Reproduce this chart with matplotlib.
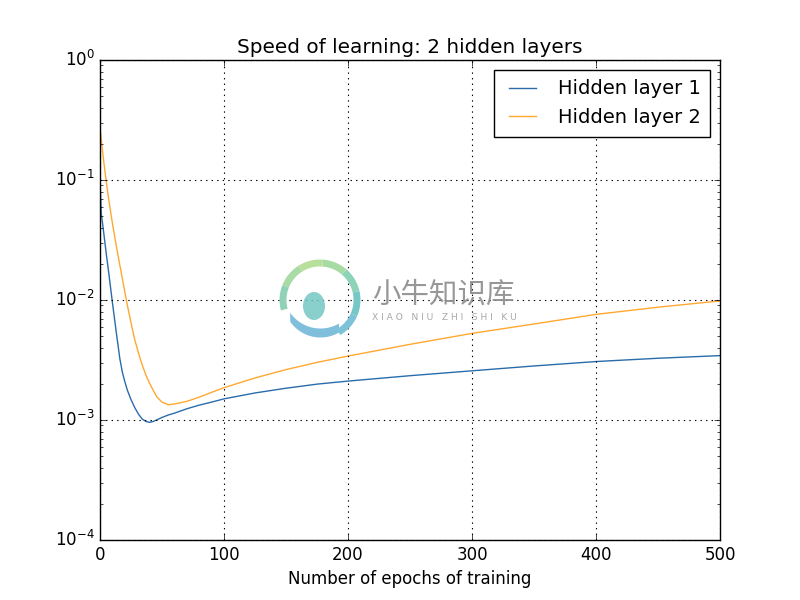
import matplotlib
matplotlib.use("Agg")
import matplotlib.pyplot as plt
from matplotlib.patches import Ellipse
import numpy as np

plt.style.use("classic")
plt.rcParams["font.family"] = ["DejaVu Sans"]
plt.rcParams["mathtext.fontset"] = "dejavusans"
plt.rcParams["figure.facecolor"] = "white"
plt.rcParams["savefig.facecolor"] = "white"

epochs = [0, 1, 2, 3, 5, 7, 10, 13, 16, 18, 20, 22, 25, 28, 31, 34, 37, 40, 43, 46,
          50, 55, 60, 70, 80, 90, 100, 125, 150, 175, 200, 250, 300, 350, 400, 450, 500]
layer1 = [0.1, 0.0525, 0.044, 0.0363, 0.0245, 0.0170, 0.00955, 0.0055, 0.00324, 0.00251,
          0.00209, 0.00178, 0.00148, 0.00127, 0.00112, 0.00102, 0.000973, 0.000955, 0.000973, 0.001005,
          0.00105, 0.0011, 0.00114, 0.00124, 0.00133, 0.00141, 0.0015, 0.00168, 0.00184, 0.00199,
          0.00211, 0.00234, 0.00257, 0.00282, 0.00307, 0.00327, 0.00344]
layer2 = [0.275, 0.219, 0.176, 0.143, 0.0977, 0.0692, 0.0437, 0.0288, 0.0195, 0.0151,
          0.0117, 0.00912, 0.00646, 0.00468, 0.00363, 0.00288, 0.00237, 0.00202, 0.00176, 0.00155,
          0.00141, 0.00134, 0.00136, 0.00143, 0.00155, 0.0017, 0.00186, 0.00224, 0.00263, 0.00302,
          0.00341, 0.00427, 0.00527, 0.00631, 0.00759, 0.00871, 0.00982]
labels = ["Hidden layer 1", "Hidden layer 2"]
colors = ["#2a6cab", "#ffa830"]

fig = plt.figure(figsize=(8, 6), dpi=100)
ax = fig.add_subplot(111)
ax.plot(epochs, layer1, color=colors[0], lw=1.0, label=labels[0])
ax.plot(epochs, layer2, color=colors[1], lw=1.0, label=labels[1])
ax.set_yscale("log")
ax.set_xlim(0, 500)
ax.set_ylim(1e-4, 1)
ax.grid(True, color="black", linestyle=":", linewidth=0.8)
ax.set_title("Speed of learning: 2 hidden layers", fontsize=14.4)
ax.set_xlabel("Number of epochs of training", fontsize=12)
ax.tick_params(labelsize=12)
leg = ax.legend(loc="upper right", fontsize=14, fancybox=False, borderpad=0.5)
leg.get_frame().set_edgecolor("black")

# watermark overlay (pixel coordinates)
wm = fig.add_axes([0, 0, 1, 1], facecolor="none")
wm.set_xlim(0, 800)
wm.set_ylim(600, 0)
wm.axis("off")
cx, cy, r = 320, 300, 37
ring_cols = ["#7cc3d8", "#76c8c6", "#8dd3b8", "#a6dba4", "#b8df9c", "#a9dba6", "#90d2b6"]
edges = np.linspace(-60, 195, len(ring_cols) + 1)
for c, a0, a1 in zip(ring_cols, edges[:-1], edges[1:]):
    t = np.radians(np.linspace(a0, a1, 30))
    wm.plot(cx + r * np.cos(t), cy - r * np.sin(t), color=c, lw=5, solid_capstyle="butt")
t = np.radians(np.linspace(215, 300, 30))
wm.fill_between(cx + r * np.cos(t), cy - r * np.sin(t), cy - r * np.sin(t) - 9,
                color="#7fbfdc", lw=0)
wm.add_patch(Ellipse((314, 306), 22, 28, color="#74c7c4", alpha=0.85, lw=0))
wm.text(443, 294, "小牛知识库", fontsize=20.5, color="#8c8c8c", alpha=0.9,
        ha="center", va="center", family=["Noto Sans CJK SC", "DejaVu Sans"])
wm.text(444, 318, "X I A O   N I U   Z H I   S H I   K U", fontsize=6.6, color="#a8a8a8",
        ha="center", va="center")

fig.savefig("out.png", dpi=100)
